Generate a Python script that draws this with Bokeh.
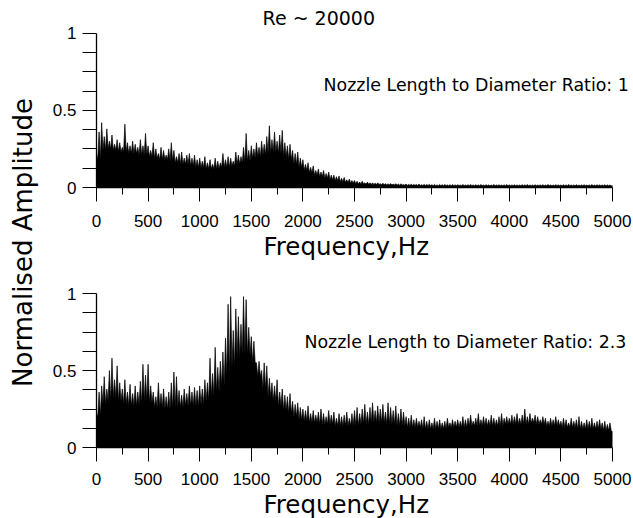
from bokeh.plotting import figure
from bokeh.layouts import row, column
from bokeh.models import Range1d, FixedTicker, Label, ColumnDataSource, Title
from bokeh.embed import file_html
from bokeh.resources import INLINE
from bokeh.core.properties import value

# ---------------- texts ----------------
title_text = "Re ~ 20000"
x_label = "Frequency,Hz"
y_label = "Normalised Amplitude"
ratio_labels = ["Nozzle Length to Diameter Ratio: 1",
                "Nozzle Length to Diameter Ratio: 2.3"]

# ---------------- ticks ----------------
x_ticks = [0, 500, 1000, 1500, 2000, 2500, 3000, 3500, 4000, 4500, 5000]
x_minor = [250, 750, 1250, 1750, 2250, 2750, 3250, 3750, 4250, 4750]
y_ticks = [0, 0.5, 1]
y_minor = [0.125, 0.25, 0.375, 0.625, 0.75, 0.875]
y_tick_labels = {0: "0", 0.5: "0.5", 1: "1"}

# ---------------- data ----------------
body_step = 50   # Hz between solid-level (valley) samples
peak_step = 25   # Hz between spike samples

# L/D = 1 : solid level of the spectrum, 0..5000 Hz every 50 Hz
top_body = [
    0.18, 0.24, 0.25, 0.24, 0.23, 0.23, 0.22, 0.22, 0.21, 0.21,
    0.20, 0.19, 0.18, 0.18, 0.17, 0.16, 0.15, 0.15, 0.14, 0.13,
    0.13, 0.12, 0.12, 0.12, 0.13, 0.13, 0.14, 0.15, 0.16, 0.17,
    0.19, 0.20, 0.21, 0.22, 0.23, 0.22, 0.20, 0.18, 0.15, 0.13,
    0.11, 0.095, 0.08, 0.07, 0.06, 0.05, 0.043, 0.037, 0.032, 0.028,
    0.025, 0.023, 0.021, 0.020, 0.019, 0.018, 0.017, 0.016, 0.015, 0.015,
    0.014, 0.014, 0.013, 0.013, 0.013, 0.012, 0.012, 0.012, 0.012, 0.012,
    0.012, 0.012, 0.012, 0.011, 0.012, 0.012, 0.011, 0.012, 0.012, 0.011,
    0.012, 0.011, 0.012, 0.012, 0.011, 0.012, 0.011, 0.012, 0.011, 0.012,
    0.011, 0.012, 0.011, 0.011, 0.012, 0.011, 0.011, 0.012, 0.011, 0.011,
    0.011,
]
# L/D = 1 : spike tops, 0..4975 Hz every 25 Hz
top_peaks = [
    0.22, 0.36, 0.42, 0.33, 0.38, 0.30, 0.34, 0.28, 0.31, 0.29,
    0.26, 0.41, 0.29, 0.27, 0.30, 0.28, 0.26, 0.31, 0.27, 0.35,
    0.27, 0.24, 0.29, 0.25, 0.22, 0.26, 0.24, 0.21, 0.25, 0.29,
    0.24, 0.20, 0.22, 0.23, 0.19, 0.21, 0.22, 0.19, 0.21, 0.18,
    0.19, 0.17, 0.20, 0.16, 0.18, 0.15, 0.19, 0.17, 0.16, 0.22,
    0.18, 0.20, 0.19, 0.17, 0.23, 0.21, 0.20, 0.26, 0.35, 0.24,
    0.27, 0.25, 0.29, 0.26, 0.30, 0.28, 0.33, 0.40, 0.31, 0.36,
    0.30, 0.34, 0.37, 0.29, 0.27, 0.28, 0.24, 0.22, 0.23, 0.19,
    0.18, 0.15, 0.16, 0.13, 0.14, 0.11, 0.12, 0.10, 0.11, 0.09,
    0.10, 0.08, 0.08, 0.07, 0.075, 0.06, 0.065, 0.05, 0.055, 0.045,
    0.045, 0.04, 0.035, 0.04, 0.03, 0.035, 0.03, 0.03, 0.028, 0.03,
    0.025, 0.028, 0.025, 0.024, 0.026, 0.022, 0.025, 0.022, 0.024, 0.02,
    0.022, 0.02, 0.021, 0.019, 0.02, 0.022, 0.018, 0.02, 0.019, 0.02,
    0.018, 0.02, 0.017, 0.019, 0.018, 0.02, 0.017, 0.018, 0.019, 0.017,
    0.018, 0.016, 0.019, 0.017, 0.018, 0.02, 0.016, 0.018, 0.017, 0.019,
    0.016, 0.018, 0.017, 0.016, 0.019, 0.017, 0.018, 0.016, 0.017, 0.019,
    0.017, 0.016, 0.018, 0.017, 0.016, 0.018, 0.017, 0.019, 0.016, 0.017,
    0.018, 0.016, 0.017, 0.018, 0.016, 0.019, 0.017, 0.016, 0.018, 0.017,
    0.016, 0.018, 0.017, 0.019, 0.016, 0.017, 0.018, 0.016, 0.017, 0.018,
    0.016, 0.017, 0.019, 0.016, 0.018, 0.017, 0.016, 0.018, 0.017, 0.016,
]

# L/D = 2.3 : solid level, 0..5000 Hz every 50 Hz
bot_body = [
    0.20, 0.28, 0.30, 0.32, 0.30, 0.28, 0.27, 0.27, 0.28, 0.30,
    0.29, 0.26, 0.26, 0.25, 0.25, 0.26, 0.26, 0.27, 0.27, 0.27,
    0.28, 0.30, 0.33, 0.36, 0.40, 0.46, 0.52, 0.58, 0.60, 0.60,
    0.55, 0.46, 0.38, 0.33, 0.30, 0.27, 0.24, 0.22, 0.20, 0.18,
    0.17, 0.16, 0.16, 0.15, 0.15, 0.15, 0.14, 0.14, 0.14, 0.14,
    0.14, 0.15, 0.15, 0.16, 0.16, 0.16, 0.15, 0.15, 0.14, 0.14,
    0.13, 0.13, 0.13, 0.12, 0.12, 0.12, 0.12, 0.12, 0.13, 0.13,
    0.13, 0.13, 0.14, 0.14, 0.14, 0.14, 0.14, 0.14, 0.14, 0.15,
    0.15, 0.15, 0.15, 0.15, 0.16, 0.15, 0.15, 0.14, 0.14, 0.14,
    0.13, 0.13, 0.13, 0.12, 0.12, 0.12, 0.12, 0.12, 0.11, 0.11,
    0.10,
]
# L/D = 2.3 : spike tops, 0..4975 Hz every 25 Hz
bot_peaks = [
    0.22, 0.36, 0.40, 0.46, 0.38, 0.50, 0.58, 0.44, 0.53, 0.42,
    0.38, 0.44, 0.36, 0.41, 0.35, 0.40, 0.36, 0.43, 0.54, 0.47,
    0.54, 0.40, 0.36, 0.33, 0.42, 0.35, 0.38, 0.33, 0.36, 0.42,
    0.49, 0.46, 0.37, 0.34, 0.38, 0.35, 0.40, 0.36, 0.39, 0.37,
    0.40, 0.38, 0.44, 0.42, 0.58, 0.48, 0.65, 0.52, 0.56, 0.62,
    0.71, 0.93, 0.98, 0.76, 0.90, 0.85, 0.80, 0.98, 0.96, 0.78,
    0.72, 0.69, 0.55, 0.56, 0.50, 0.55, 0.53, 0.45, 0.42, 0.40,
    0.44, 0.36, 0.38, 0.34, 0.33, 0.35, 0.30, 0.28, 0.29, 0.26,
    0.25, 0.24, 0.27, 0.22, 0.24, 0.21, 0.23, 0.25, 0.22, 0.20,
    0.24, 0.21, 0.23, 0.19, 0.22, 0.20, 0.21, 0.23, 0.19, 0.22,
    0.24, 0.26, 0.22, 0.25, 0.28, 0.23, 0.26, 0.29, 0.24, 0.27,
    0.25, 0.28, 0.23, 0.29, 0.26, 0.24, 0.27, 0.22, 0.25, 0.23,
    0.20, 0.19, 0.21, 0.18, 0.19, 0.17, 0.18, 0.20, 0.17, 0.18,
    0.16, 0.19, 0.17, 0.18, 0.16, 0.17, 0.19, 0.16, 0.18, 0.17,
    0.18, 0.17, 0.20, 0.18, 0.19, 0.21, 0.17, 0.19, 0.22, 0.18,
    0.20, 0.19, 0.18, 0.21, 0.19, 0.18, 0.20, 0.22, 0.19, 0.20,
    0.19, 0.21, 0.20, 0.22, 0.19, 0.21, 0.25, 0.20, 0.22, 0.19,
    0.21, 0.20, 0.18, 0.20, 0.19, 0.17, 0.19, 0.18, 0.20, 0.18,
    0.17, 0.19, 0.18, 0.16, 0.19, 0.17, 0.18, 0.20, 0.17, 0.16,
    0.18, 0.17, 0.19, 0.16, 0.17, 0.18, 0.16, 0.17, 0.15, 0.16,
]

peak_freq = [i * peak_step for i in range(len(top_peaks))]


def spectrum_outline(body, peaks):
    """Jagged outline: each spike top, then the solid level measured for
    the 50 Hz band that the spike lies in."""
    xs, ys = [], []
    for i, f in enumerate(peak_freq):
        xs.append(f)
        ys.append(peaks[i])
        xs.append(f + peak_step / 2)
        ys.append(body[i * peak_step // body_step])
    xs.append(len(body[:-1]) * body_step)
    ys.append(body[-1])
    return xs, ys


# ---------------- styling ----------------
TICK_FONT = "Liberation Sans"
TEXT_FONT = "DejaVu Sans"
X_END = 5155   # frame runs a little past the 5000 Hz axis end


def make_panel(body, peaks, label_text, label_x, label_y, height, y_top,
               top_border, bottom_border, major_standoff, title_standoff):
    p = figure(width=593, height=height, output_backend="svg",
               toolbar_location=None, x_range=Range1d(0, X_END),
               y_range=Range1d(0, y_top), min_border_left=56,
               min_border_right=5, min_border_top=top_border,
               min_border_bottom=bottom_border)
    p.xgrid.visible = False
    p.ygrid.visible = False
    p.outline_line_color = None
    p.background_fill_color = "white"
    p.border_fill_color = "white"

    xs, ys = spectrum_outline(body, peaks)
    src = ColumnDataSource(dict(f=xs, a=ys, z=[0] * len(xs)))
    p.varea(x="f", y1="z", y2="a", source=src, fill_color="black")
    p.line(x="f", y="a", source=src, line_color="black", line_width=0.7)

    xa = p.xaxis[0]
    xa.ticker = FixedTicker(ticks=x_ticks, minor_ticks=x_minor)
    xa.bounds = (0, 5000)
    xa.major_tick_out = 14
    xa.major_tick_in = 0
    xa.minor_tick_out = 7
    xa.minor_tick_in = 0
    xa.axis_line_color = "black"
    xa.axis_line_width = 1.3
    xa.major_tick_line_color = "black"
    xa.minor_tick_line_color = "black"
    xa.major_label_text_font = TICK_FONT
    xa.major_label_text_font_size = "17px"
    xa.major_label_text_color = "black"
    xa.major_label_standoff = major_standoff

    # x-axis title, left-aligned to where the reference puts it
    p.add_layout(Title(text=x_label, align="left", offset=167,
                       standoff=title_standoff, text_font=TEXT_FONT,
                       text_font_size="24.5px", text_font_style="normal",
                       text_color="black"), "below")

    ya = p.yaxis[0]
    ya.ticker = FixedTicker(ticks=y_ticks, minor_ticks=y_minor)
    ya.bounds = (0, 1)
    ya.major_tick_out = 14
    ya.major_tick_in = 0
    ya.minor_tick_out = 14
    ya.minor_tick_in = 0
    ya.axis_line_color = "black"
    ya.axis_line_width = 1.3
    ya.major_tick_line_color = "black"
    ya.minor_tick_line_color = "black"
    ya.major_label_overrides = y_tick_labels
    ya.major_label_text_font = TICK_FONT
    ya.major_label_text_font_size = "17px"
    ya.major_label_text_color = "black"
    ya.major_label_standoff = 6

    p.add_layout(Label(x=label_x, y=label_y, text=label_text,
                       text_font=TEXT_FONT, text_font_size="17.4px",
                       text_color="black", text_align="left",
                       text_baseline="middle"))
    return p


top = make_panel(top_body, top_peaks, ratio_labels[0], 2200, 0.667,
                 260, 1.179, 5, 71, 13, 0)
top.add_layout(Label(x=1609, y=1.095, text=title_text, text_font=TEXT_FONT,
                     text_font_size="19px", text_color="black",
                     text_align="left", text_baseline="middle"))

bottom = make_panel(bot_body, bot_peaks, ratio_labels[1], 2015, 0.684,
                    258, 1.0, 33, 71, 11, 0)

# left strip carrying the shared y-axis title
lab = figure(width=40, height=518, output_backend="svg", toolbar_location=None,
             x_range=Range1d(0, 40), y_range=Range1d(0, 518),
             x_axis_type=None, y_axis_type=None, min_border=0,
             min_border_left=0, min_border_right=0, min_border_top=0,
             min_border_bottom=0)
lab.outline_line_color = None
lab.xgrid.visible = False
lab.ygrid.visible = False
lab.text(x=[22], y=[276], text=[y_label], angle=1.5707963267948966,
         text_font=value(TEXT_FONT), text_font_size="26px",
         text_color="black", text_align="center",
         text_baseline="middle")

layout = row(lab, column(top, bottom))

open("out.html", "w").write(file_html(layout, INLINE))
